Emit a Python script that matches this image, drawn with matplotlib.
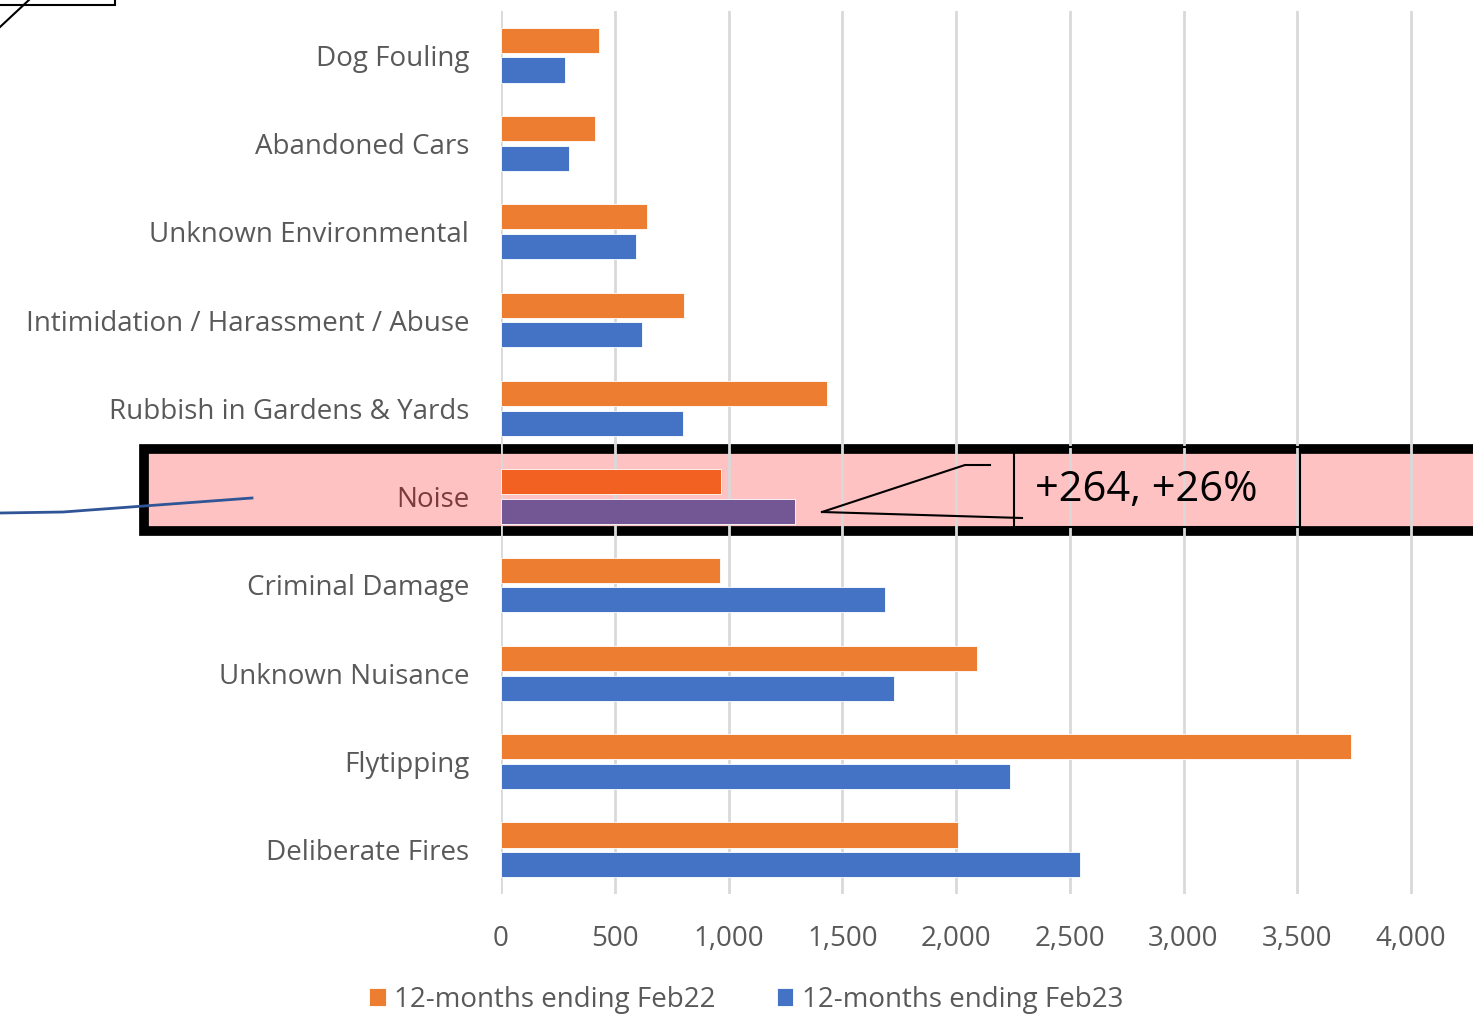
import matplotlib
matplotlib.use('Agg')
import matplotlib.pyplot as plt
from matplotlib.patches import Rectangle
from matplotlib.lines import Line2D
import numpy as np

# Data
categories = ['Dog Fouling', 'Abandoned Cars', 'Unknown Environmental',
              'Intimidation / Harassment / Abuse', 'Rubbish in Gardens & Yards',
              'Noise', 'Criminal Damage', 'Unknown Nuisance', 'Flytipping',
              'Deliberate Fires']
feb22 = [431, 413, 642, 804, 1433, 967, 963, 2093, 3737, 2009]
feb23 = [281, 299, 593, 620, 800, 1292, 1688, 1728, 2238, 2545]
series_names = ['12-months ending Feb22', '12-months ending Feb23']
xticks = [0, 500, 1000, 1500, 2000, 2500, 3000, 3500, 4000]
highlight = 'Noise'
callout_text = '+264, +26%'

W, H = 1473, 1024
plt.rcParams['font.family'] = ['Open Sans', 'DejaVu Sans']
fig = plt.figure(figsize=(W / 100, H / 100), dpi=100)


def px(x, y):
    '''Pixel (from top-left) to figure fraction.'''
    return x / W, 1 - y / H


ax = fig.add_axes([501 / W, 1 - 894 / H, (W - 501) / W, 883 / H])
ax.set_facecolor('none')
ax.set_zorder(1)

y = np.arange(len(categories))
hi = categories.index(highlight)
c22 = ['#F26122' if i == hi else '#ED7D31' for i in y]
c23 = ['#725794' if i == hi else '#4472C4' for i in y]
ax.barh(y - 0.168, feb22, height=0.285, color=c22, edgecolor='white',
        linewidth=0.6, zorder=3, label=series_names[0])
ax.barh(y + 0.168, feb23, height=0.285, color=c23, edgecolor='white',
        linewidth=0.6, zorder=3, label=series_names[1])

ax.set_ylim(len(categories) - 0.5, -0.5)
ax.set_xlim(0, (W - 501) * 4000 / 910)
ax.set_yticks(y)
ax.set_yticklabels(categories, fontsize=20, color='#595959',
                   va='center_baseline')
ax.get_yticklabels()[hi].set_color('#7B3B3B')
ax.set_xticks(xticks)
ax.set_xticklabels(['{:,}'.format(v) for v in xticks], fontsize=20,
                   color='#595959')
ax.tick_params(axis='y', length=0, pad=23)
ax.tick_params(axis='x', length=0, pad=22)
for s in ax.spines.values():
    s.set_visible(False)
ax.grid(axis='x', color='#D9D9D9', linewidth=2, zorder=0)
ax.set_axisbelow(True)

# Legend
h, l = ax.get_legend_handles_labels()
fig.legend(h, l, loc='center', bbox_to_anchor=px(746, 1000), ncol=2,
           frameon=False, fontsize=20, labelcolor='#595959',
           handlelength=0.6, handleheight=0.6, handletextpad=0.3,
           columnspacing=2.2)

# Highlight band around the Noise row (behind the axes)
x0, y0 = px(144, 531)
fig.add_artist(Rectangle((x0, y0), 1.1 - x0, 82 / H, transform=fig.transFigure,
                         facecolor=(1.0, 0.72, 0.72, 0.85), edgecolor='black',
                         linewidth=7, zorder=0.5))

# Callout box
bx, by = px(1014, 527)
fig.add_artist(Rectangle((bx, by), 286 / W, 80 / H, transform=fig.transFigure,
                         facecolor='none', edgecolor='black', linewidth=1.5,
                         zorder=6))
fig.text(*px(1146, 490), callout_text, fontsize=30, ha='center', va='center',
         color='black', zorder=6)
for xs, ys in [([822, 965, 990], [512, 465, 465]), ([822, 1022], [512, 518])]:
    pts = [px(a, b) for a, b in zip(xs, ys)]
    fig.add_artist(Line2D([p[0] for p in pts], [p[1] for p in pts],
                          transform=fig.transFigure, color='black',
                          linewidth=1.5, zorder=6))

# Connector coming in from the left
pts = [px(a, b) for a, b in [(0, 513), (63, 512), (252, 498)]]
fig.add_artist(Line2D([p[0] for p in pts], [p[1] for p in pts],
                      transform=fig.transFigure, color='#2F5597',
                      linewidth=2, zorder=6))

# Partial shapes at the top-left corner
fig.add_artist(Rectangle(px(-10, 5), 125 / W, 20 / H, transform=fig.transFigure,
                         facecolor='white', edgecolor='black', linewidth=1.5,
                         zorder=6))
pts = [px(0, 27), px(30, -1)]
fig.add_artist(Line2D([p[0] for p in pts], [p[1] for p in pts],
                      transform=fig.transFigure, color='black',
                      linewidth=1.5, zorder=7))

fig.savefig('out.png', dpi=100)
